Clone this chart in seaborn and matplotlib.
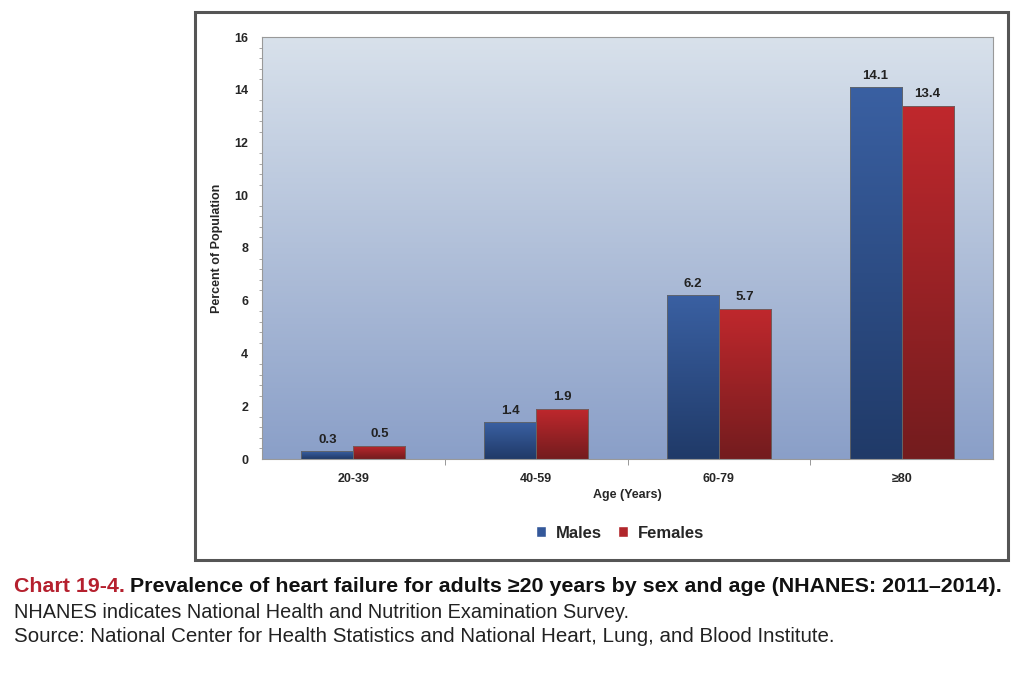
import numpy as np
import pandas as pd
import seaborn as sns
import matplotlib.pyplot as plt
from matplotlib.patches import Rectangle
from matplotlib.ticker import MultipleLocator
from matplotlib.colors import LinearSegmentedColormap

ages = ['20-39', '40-59', '60-79', '≥80']
males = [0.3, 1.4, 6.2, 14.1]
females = [0.5, 1.9, 5.7, 13.4]

df = pd.DataFrame({
    'age': ages * 2,
    'sex': ['Males'] * 4 + ['Females'] * 4,
    'pct': males + females,
})

sns.set_style('white')
plt.rcParams['font.family'] = ['Liberation Sans', 'DejaVu Sans']

fig = plt.figure(figsize=(10.24, 6.73), dpi=100)
W, H = 1024, 673
ax = fig.add_axes([262 / W, 1 - 459 / H, (993 - 262) / W, (459 - 37) / H])

# outer frame of the chart
fig.patches.append(Rectangle((195 / W, 1 - 560 / H), (1008 - 195) / W, (560 - 12) / H,
                             transform=fig.transFigure, fill=False, ec='#555555', lw=2.2))

blue, red = '#34589a', '#b1262b'
sns.barplot(data=df, x='age', y='pct', hue='sex', palette=[blue, red],
            width=0.57, ax=ax, legend=False, edgecolor='#666666', linewidth=0.6)

ax.set_ylim(0, 16)
ax.set_xlim(-0.5, 3.5)

# gradient background
bg = LinearSegmentedColormap.from_list('bg', ['#8a9fc8', '#d8e1eb'])
grad = np.linspace(0, 1, 256).reshape(-1, 1)
ax.imshow(grad, cmap=bg, aspect='auto', extent=(-0.5, 3.5, 0, 16), origin='lower', zorder=0)

# gradient bars
cmaps = [LinearSegmentedColormap.from_list('b', ['#203a68', '#3a60a2']),
         LinearSegmentedColormap.from_list('r', ['#731c1e', '#c0282d'])]
for i, cont in enumerate(ax.containers):
    for p in cont.patches:
        x0, y0 = p.get_x(), p.get_y()
        w, h = p.get_width(), p.get_height()
        im = ax.imshow(grad, cmap=cmaps[i], aspect='auto', extent=(x0, x0 + w, y0, y0 + h),
                       origin='lower', zorder=2)
        im.set_clip_path(p)
        p.set_zorder(3)
        p.set_facecolor('none')
    ax.bar_label(cont, fmt='%.1f', padding=4, fontsize=9.5, fontweight='bold', color='#222222')

ax.set_xlim(-0.5, 3.5)
ax.set_ylim(0, 16)

ax.yaxis.set_major_locator(MultipleLocator(2))
ax.yaxis.set_minor_locator(MultipleLocator(0.4))
ax.tick_params(axis='y', which='major', length=4, width=0.8, color='#777777', labelsize=9, pad=6)
ax.tick_params(axis='y', which='minor', length=2, width=0.6, color='#999999', left=True)
ax.tick_params(axis='x', length=0, labelsize=9, pad=10)
ax.set_xticks([0, 1, 2, 3])
ax.set_xticks([0.5, 1.5, 2.5], minor=True)
ax.tick_params(axis='x', which='minor', length=4, color='#888888', bottom=True)
for lab in ax.get_xticklabels() + ax.get_yticklabels():
    lab.set_fontweight('bold')

for s in ax.spines.values():
    s.set_color('#999999')
    s.set_linewidth(0.8)

ax.set_xlabel('Age (Years)', fontsize=9, fontweight='bold', labelpad=3)
ax.set_ylabel('Percent of Population', fontsize=9, fontweight='bold', labelpad=8)

handles = [Rectangle((0, 0), 1, 1, fc=blue), Rectangle((0, 0), 1, 1, fc=red)]
fig.legend(handles, ['Males', 'Females'], loc='center', bbox_to_anchor=(620 / W, 1 - 533 / H),
           ncol=2, frameon=False, handlelength=0.6, handleheight=0.6, handletextpad=0.6,
           columnspacing=1.0, prop={'weight': 'bold', 'size': 12})

cap = ['Liberation Sans', 'DejaVu Sans']
fig.text(14 / W, 1 - 587 / H, 'Chart 19-4.', color='#b5202e', fontsize=15.4, fontweight='bold',
         family=cap, va='center')
fig.text(130 / W, 1 - 587 / H,
         'Prevalence of heart failure for adults ≥20 years by sex and age (NHANES: 2011–2014).',
         color='#111111', fontsize=15.4, fontweight='bold', family=cap, va='center')
fig.text(14 / W, 1 - 612 / H, 'NHANES indicates National Health and Nutrition Examination Survey.',
         color='#222222', fontsize=14.3, family=cap, va='center')
fig.text(14 / W, 1 - 637 / H,
         'Source: National Center for Health Statistics and National Heart, Lung, and Blood Institute.',
         color='#222222', fontsize=14.8, family=cap, va='center')

fig.savefig('out.png', dpi=100, facecolor='white')
